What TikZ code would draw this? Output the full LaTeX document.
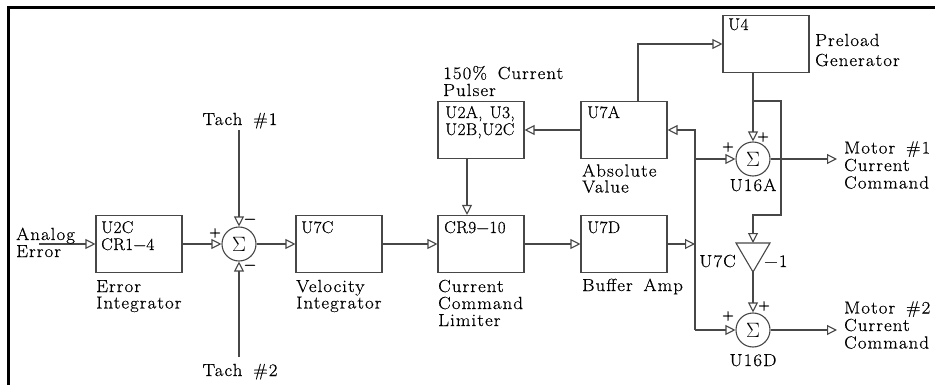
\documentclass[tikz,border=0pt]{standalone}
\usepackage{fontspec}
\setmainfont{Latin Modern Roman}[FakeStretch=1.08,LetterSpace=6,WordSpace=1.6,FakeBold=0.5]
\newfontfamily\tightfont{Latin Modern Roman}[FakeStretch=1.02,LetterSpace=2,WordSpace=1.3,FakeBold=0.5]
\usetikzlibrary{arrows.meta}
\begin{document}
\begin{tikzpicture}[x=1pt,y=-1pt,
 ln/.style={draw=black!72, line width=1.1pt},
 arr/.style={ln, -{Triangle[open,length=10pt,width=10pt]}},
 blk/.style={ln, rectangle, minimum width=86pt, minimum height=57pt, inner sep=0},
 sumn/.style={ln, circle, minimum size=34pt, inner sep=0, font=\fontsize{22}{22}\selectfont},
 lbl/.style={inner sep=0, font=\fontsize{17.5}{17.5}\selectfont, anchor=base west},
 lblt/.style={lbl, font=\tightfont\fontsize{17}{17}\selectfont},
 lblc/.style={lbl, anchor=base},
 lble/.style={lbl, anchor=base east},
 sgn/.style={inner sep=0, font=\fontsize{15}{15}\selectfont},
]
\useasboundingbox (0,0) rectangle (935,385);
% frame
\draw[line width=3pt] (8.5,386) -- (8.5,7.5) -- (936,7.5);
% blocks
\node[blk] (u2c) at (139,244) {};
\node[blk] (u7c) at (339,244) {};
\node[blk] (cr9) at (481,244) {};
\node[blk] (u7d) at (624,244) {};
\node[blk] (u2a) at (481,130) {};
\node[blk] (u7a) at (624,130) {};
\node[blk] (u4) at (766,44) {};
% summers
\node[sumn] (s1) at (239,244) {$\Sigma$};
\node[sumn] (s2) at (753,159) {$\Sigma$};
\node[sumn] (s3) at (753,330) {$\Sigma$};
% inverter
\coordinate (invtl) at (736,243);
\coordinate (invtr) at (770,243);
\coordinate (invtop) at (753,243);
\coordinate (invbot) at (753,272);
\draw[ln] (invtl) -- (invtr) -- (invbot) -- cycle;
% free ends
\coordinate (ain) at (39,244);
\coordinate (t1) at (239,130);
\coordinate (t2) at (239,357);
\coordinate (j1) at (753,101);
\coordinate (j2) at (781,215);
\coordinate (bb) at (695,330);
\coordinate (o1) at (837,159);
\coordinate (o2) at (837,330);
% connectors
\draw[arr] (ain) -- (u2c.west);
\draw[arr] (u2c.east) -- (s1.west);
\draw[arr] (t1) -- (s1.north);
\draw[arr] (t2) -- (s1.south);
\draw[arr] (s1.east) -- (u7c.west);
\draw[arr] (u7c.east) -- (cr9.west);
\draw[arr] (cr9.east) -- (u7d.west);
\draw[arr] ([xshift=-14pt]u2a.south) -- ([xshift=-14pt]cr9.north);
\draw[arr] (u7a.west) -- (u2a.east);
\draw[arr] ([xshift=14pt]u7a.north) |- (u4.west);
\draw[arr] (u4.south -| s2) -- (s2.north);
\draw[arr] (j1) -| (j2) -| (invtop);
\draw[arr] (invbot) -- (s3.north);
\draw[arr] (bb) |- (u7a.east);
\draw[arr] (bb) -- (s3.west);
\draw[arr] (s2.west -| bb) -- (s2.west);
\draw[arr] (u7d.east) -- (u7d.east -| bb);
\draw[arr] (s2.east) -- (o1);
\draw[arr] (s3.east) -- (o2);
% signs
\node[sgn] (p1) at (215,233) {+};
\node[sgn] (m1) at (250,221) {−};
\node[sgn] (m2) at (250,267) {−};
\node[sgn] (p2) at (763,137) {+};
\node[sgn] (p3) at (728,147) {+};
\node[sgn] (p4) at (764,306) {+};
\node[sgn] (p5) at (728,316) {+};
% labels
\node[lbl] (la1) at (16,240) {Analog};
\node[lbl] (la2) at (16,257) {Error};
\node[lblt] (lu2c1) at (101,233) {U2C};
\node[lblt] (lu2c2) at (101,250) {CR1−4};
\node[lbl] (le1) at (96,292) {Error};
\node[lbl] (le2) at (96,308.5) {Integrator};
\node[lblc] (lt1) at (240,125) {Tach \#1};
\node[lblc] (lt2) at (240,376) {Tach \#2};
\node[lblt] (lu7c) at (301,233) {U7C};
\node[lbl] (lv1) at (296,292) {Velocity};
\node[lbl] (lv2) at (296,308.5) {Integrator};
\node[lblt] (lcr) at (444,233) {CR9−10};
\node[lbl] (lc1) at (438,292) {Current};
\node[lbl] (lc2) at (438,309) {Command};
\node[lbl] (lc3) at (438,326) {Limiter};
\node[lbl] (lp1) at (443,79) {150\% Current};
\node[lbl] (lp2) at (443,96) {Pulser};
\node[lblt] (lu2a1) at (445,118) {U2A, U3,};
\node[lblt] (lu2a2) at (445,135) {U2B,U2C};
\node[lblt] (lu7a) at (587,118) {U7A};
\node[lbl] (lab1) at (582,176.5) {Absolute};
\node[lbl] (lab2) at (582,192.5) {Value};
\node[lblt] (lu7d) at (587,233) {U7D};
\node[lbl] (lbuf) at (582,291) {Buffer Amp};
\node[lblt] (lu4) at (728,30) {U4};
\node[lbl] (lpr1) at (815,46) {Preload};
\node[lbl] (lpr2) at (815,66) {Generator};
\node[lblc] (lu16a) at (753,191) {U16A};
\node[lblc] (lu16d) at (753,366) {U16D};
\node[lble] (linv) at (736,267) {U7C};
\node[lbl] (linv2) at (764,267) {−1};
\node[lbl] (lm11) at (844,153.5) {Motor \#1};
\node[lbl] (lm12) at (844,171) {Current};
\node[lbl] (lm13) at (844,188.5) {Command};
\node[lbl] (lm21) at (844,313.5) {Motor \#2};
\node[lbl] (lm22) at (844,331) {Current};
\node[lbl] (lm23) at (844,348.5) {Command};
\end{tikzpicture}
\end{document}
